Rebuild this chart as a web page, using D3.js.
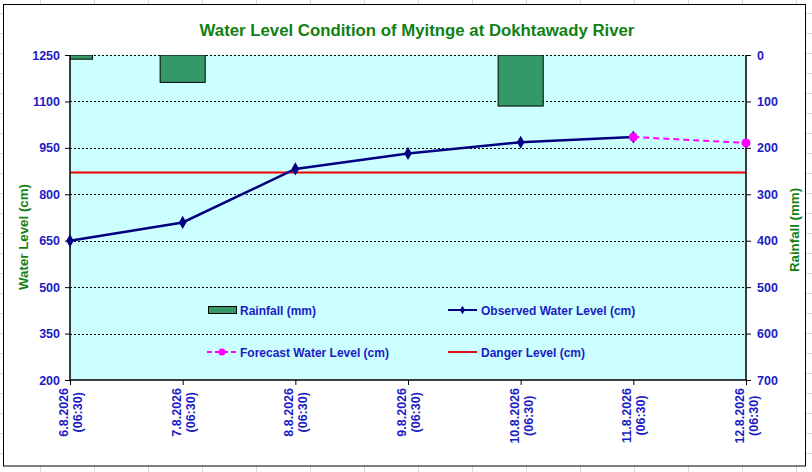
<!DOCTYPE html>
<html>
<head>
<meta charset="utf-8">
<script src="https://cdn.jsdelivr.net/npm/d3@7"></script>
<style>
  html, body { margin: 0; padding: 0; background: #fff; }
  svg { display: block; }
  text { font-family: Arial, "Liberation Sans", sans-serif; font-weight: bold; }
</style>
</head>
<body>
<div id="chart"></div>
<script>
// data
const dates = ['6.8.2026', '7.8.2026', '8.8.2026', '9.8.2026', '10.8.2026', '11.8.2026', '12.8.2026'];
const timeLabel = '(06:30)';
const rainfall = [9, 59, 0, 0, 110, 0, 0];
const observed = [650, 709, 882, 932, 968, 985];
const forecastDates = ['11.8.2026', '12.8.2026'];
const forecast = [985, 966];
const dangerLevel = 870;
const levelTicks = [200, 350, 500, 650, 800, 950, 1100, 1250];
const rainTicks = [0, 100, 200, 300, 400, 500, 600, 700];

!(function () {
  'use strict';
  const W = 812, H = 472;
  const plot = { left: 70, right: 746, top: 55, bottom: 380 };
  const blue = '#1c1cc4', green = '#128012';

  const svg = d3.select('#chart').append('svg')
    .attr('width', W).attr('height', H);

  // spreadsheet grid behind the chart
  const sheet = svg.append('g').attr('stroke', '#d4d8de').attr('stroke-width', 1);
  d3.range(40.5, W, 54).forEach(function (x) {
    sheet.append('line').attr('x1', x).attr('x2', x).attr('y1', 0).attr('y2', H);
  });
  d3.range(13.5, H, 20).forEach(function (y) {
    sheet.append('line').attr('x1', 0).attr('x2', W).attr('y1', y).attr('y2', y);
  });

  // chart frame
  svg.append('rect')
    .attr('x', 3.5).attr('y', 4.5).attr('width', 802).attr('height', 461.5)
    .attr('fill', '#fff').attr('stroke', '#000').attr('stroke-width', 1);

  // scales
  const x = d3.scalePoint().domain(dates).range([plot.left, plot.right]);
  const yL = d3.scaleLinear().domain([200, 1250]).range([plot.bottom, plot.top]);
  const yR = d3.scaleLinear().domain([0, 700]).range([plot.top, plot.bottom]);
  const barW = x.step() * 0.4;

  // plot background
  svg.append('rect')
    .attr('x', plot.left).attr('y', plot.top)
    .attr('width', plot.right - plot.left).attr('height', plot.bottom - plot.top)
    .attr('fill', '#ccffff');

  svg.append('clipPath').attr('id', 'plotClip').append('rect')
    .attr('x', plot.left).attr('y', plot.top)
    .attr('width', plot.right - plot.left).attr('height', plot.bottom - plot.top);

  // gridlines
  svg.append('g')
    .selectAll('line')
    .data(levelTicks.filter(function (d) { return d > 200; }))
    .enter().append('line')
    .attr('x1', plot.left).attr('x2', plot.right)
    .attr('y1', function (d) { return Math.round(yL(d)) + 0.5; })
    .attr('y2', function (d) { return Math.round(yL(d)) + 0.5; })
    .attr('stroke', '#000').attr('stroke-width', 1).attr('stroke-dasharray', '2,2');

  // rainfall bars hanging from the top
  svg.append('g').attr('clip-path', 'url(#plotClip)')
    .selectAll('rect')
    .data(rainfall.map(function (v, i) { return { d: dates[i], v: v }; }).filter(function (o) { return o.v > 0; }))
    .enter().append('rect')
    .attr('x', function (o) { return x(o.d) - barW / 2; })
    .attr('y', yR(0))
    .attr('width', barW)
    .attr('height', function (o) { return yR(o.v) - yR(0); })
    .attr('fill', '#339966').attr('stroke', '#000').attr('stroke-width', 1);

  // danger level
  svg.append('line')
    .attr('x1', plot.left).attr('x2', plot.right)
    .attr('y1', yL(dangerLevel)).attr('y2', yL(dangerLevel))
    .attr('stroke', '#ee0000').attr('stroke-width', 2);

  // axes
  const axL = svg.append('g').attr('transform', 'translate(' + plot.left + ',0)')
    .call(d3.axisLeft(yL).tickValues(levelTicks).tickFormat(d3.format('d')).tickSize(5).tickPadding(5));
  const axR = svg.append('g').attr('transform', 'translate(' + plot.right + ',0)')
    .call(d3.axisRight(yR).tickValues(rainTicks).tickFormat(d3.format('d')).tickSize(5).tickPadding(6));
  const axB = svg.append('g').attr('transform', 'translate(0,' + plot.bottom + ')')
    .call(d3.axisBottom(x).tickSize(5).tickFormat(''));
  [axL, axR, axB].forEach(function (g) {
    g.select('.domain').attr('stroke', '#000').attr('stroke-width', 1.5);
    g.selectAll('.tick line').attr('stroke', '#000').attr('stroke-width', 1);
    g.selectAll('.tick text').attr('fill', blue)
      .style('font-size', '12.5px').style('font-family', 'Arial, "Liberation Sans", sans-serif')
      .style('font-weight', 'bold');
  });
  axB.select('.domain').attr('d', 'M' + plot.left + ',0H' + plot.right);
  axL.select('.domain').attr('d', 'M0,' + plot.top + 'V' + plot.bottom);
  axR.select('.domain').attr('d', 'M0,' + plot.top + 'V' + plot.bottom);

  // date labels, rotated
  dates.forEach(function (d) {
    const g = svg.append('g').attr('transform', 'translate(' + x(d) + ',388) rotate(-90)');
    const t1 = g.append('text').text(d)
      .attr('fill', blue).style('font-size', '12.5px')
      .attr('text-anchor', 'end').attr('x', 0).attr('y', -2);
    const len = t1.node().getComputedTextLength();
    g.append('text').text(timeLabel)
      .attr('fill', blue).style('font-size', '12.5px')
      .attr('text-anchor', 'middle').attr('x', -len / 2).attr('y', 12);
  });

  // observed water level
  const obsData = observed.map(function (v, i) { return [x(dates[i]), yL(v)]; });
  svg.append('path')
    .attr('d', d3.line()(obsData))
    .attr('fill', 'none').attr('stroke', '#000080').attr('stroke-width', 2.5);
  svg.append('g').selectAll('path')
    .data(obsData).enter().append('path')
    .attr('d', d3.symbol(d3.symbolDiamond, 50))
    .attr('transform', function (p) { return 'translate(' + p[0] + ',' + p[1] + ')'; })
    .attr('fill', '#000080');

  // forecast water level
  const fcData = forecast.map(function (v, i) { return [x(forecastDates[i]), yL(v)]; });
  svg.append('path')
    .attr('d', d3.line()(fcData))
    .attr('fill', 'none').attr('stroke', '#ff00ff').attr('stroke-width', 2)
    .attr('stroke-dasharray', '6,4');
  svg.append('g').selectAll('circle')
    .data(fcData).enter().append('circle')
    .attr('cx', function (p) { return p[0]; })
    .attr('cy', function (p) { return p[1]; })
    .attr('r', 4.5).attr('fill', '#ff00ff');

  // legend
  const legend = svg.append('g');
  legend.append('rect').attr('x', 208.5).attr('y', 306.5).attr('width', 28).attr('height', 7)
    .attr('fill', '#339966').attr('stroke', '#000');
  legend.append('line').attr('x1', 448).attr('x2', 477).attr('y1', 310).attr('y2', 310)
    .attr('stroke', '#000080').attr('stroke-width', 2);
  legend.append('path').attr('d', d3.symbol(d3.symbolDiamond, 22))
    .attr('transform', 'translate(462.5,310)').attr('fill', '#000080');
  legend.append('line').attr('x1', 207).attr('x2', 237).attr('y1', 352).attr('y2', 352)
    .attr('stroke', '#ff00ff').attr('stroke-width', 2).attr('stroke-dasharray', '5,3');
  legend.append('circle').attr('cx', 222).attr('cy', 352).attr('r', 3.5).attr('fill', '#ff00ff');
  legend.append('line').attr('x1', 448).attr('x2', 477).attr('y1', 352).attr('y2', 352)
    .attr('stroke', '#dd1111').attr('stroke-width', 2);
  [['Rainfall (mm)', 240, 310], ['Observed Water Level (cm)', 481, 310],
   ['Forecast Water Level (cm)', 240, 352], ['Danger Level (cm)', 481, 352]].forEach(function (l) {
    legend.append('text').text(l[0]).attr('x', l[1]).attr('y', l[2] + 4.5)
      .attr('fill', blue).style('font-size', '12px');
  });

  // titles
  svg.append('text').text('Water Level Condition of Myitnge at Dokhtawady River')
    .attr('x', 417).attr('y', 36).attr('text-anchor', 'middle')
    .attr('fill', green).style('font-size', '16.8px');
  svg.append('text').text('Water Level (cm)')
    .attr('transform', 'translate(28,237) rotate(-90)').attr('text-anchor', 'middle')
    .attr('fill', green).style('font-size', '13.3px');
  svg.append('text').text('Rainfall (mm)')
    .attr('transform', 'translate(799,230) rotate(-90)').attr('text-anchor', 'middle')
    .attr('fill', green).style('font-size', '13.3px');
}());
</script>
</body>
</html>
